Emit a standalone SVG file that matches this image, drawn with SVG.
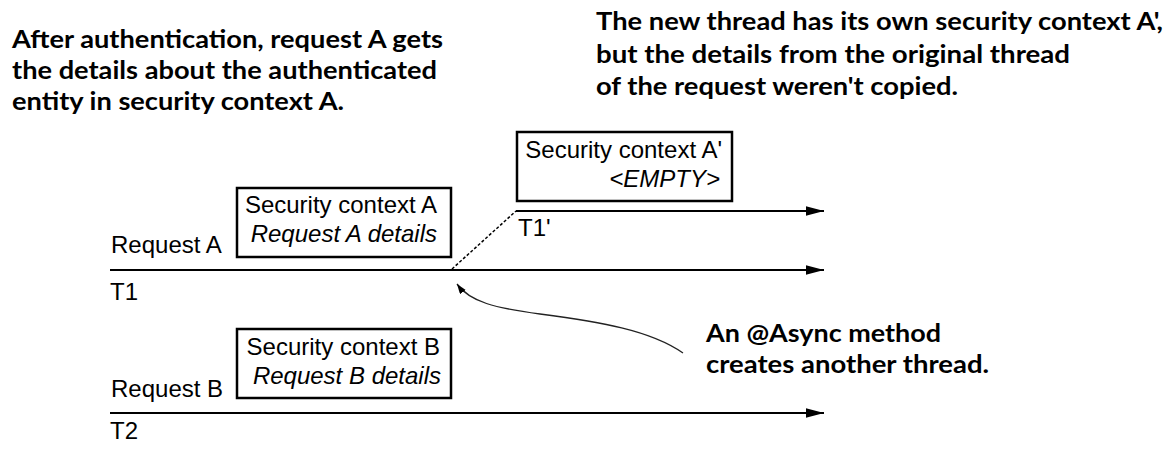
<svg xmlns="http://www.w3.org/2000/svg" width="1169" height="454" viewBox="0 0 1169 454">
<style>
.title{font-family:Lato,"Liberation Sans",sans-serif;font-weight:bold;font-size:25.5px;fill:#000}
.lbl{font-family:"Liberation Sans",Arial,sans-serif;font-size:24px;fill:#000}
.it{font-style:italic}
.box{fill:#fff;stroke:#000;stroke-width:2.5}
.thread{stroke:#000;stroke-width:2.2;fill:none}
</style>
<defs>
<marker id="ah" markerUnits="userSpaceOnUse" markerWidth="18" markerHeight="10" refX="18" refY="4.75" orient="auto">
<path d="M0,0 L18,4.75 L0,9.5 z" fill="#000"/>
</marker>
<marker id="ah2" markerUnits="userSpaceOnUse" markerWidth="11" markerHeight="8" refX="10" refY="3.5" orient="auto">
<path d="M0,0 L10,3.5 L0,7 z" fill="#000"/>
</marker>
</defs>
<g id="title-left">
<text class="title" x="12" y="48" textLength="431" lengthAdjust="spacingAndGlyphs">After authentication, request A gets</text>
<text class="title" x="12" y="79" textLength="425" lengthAdjust="spacingAndGlyphs">the details about the authenticated</text>
<text class="title" x="12" y="110" textLength="332" lengthAdjust="spacingAndGlyphs">entity in security context A.</text>
</g>
<g id="title-right">
<text class="title" x="596" y="30" textLength="567" lengthAdjust="spacingAndGlyphs">The new thread has its own security context A',</text>
<text class="title" x="596" y="63" textLength="474" lengthAdjust="spacingAndGlyphs">but the details from the original thread</text>
<text class="title" x="596" y="95" textLength="362" lengthAdjust="spacingAndGlyphs">of the request weren't copied.</text>
</g>
<g id="connectors">
<line class="thread" x1="110" y1="270" x2="824" y2="270" marker-end="url(#ah)"/>
<line class="thread" x1="516" y1="211" x2="824" y2="211" marker-end="url(#ah)"/>
<line class="thread" x1="110" y1="413" x2="824" y2="413" marker-end="url(#ah)"/>
<line x1="452" y1="269" x2="516" y2="211" stroke="#000" stroke-width="1.5" stroke-dasharray="3,2"/>
<path d="M683,353 C650,330 600,322 540,314 C495,308 470,302 457,284" fill="none" stroke="#222" stroke-width="1.3" marker-end="url(#ah2)"/>
</g>
<g id="thread-T1">
<text class="lbl" x="111" y="253">Request A</text>
<text class="lbl" x="110" y="300">T1</text>
</g>
<g id="thread-T1prime">
<text class="lbl" x="518" y="236">T1'</text>
</g>
<g id="thread-T2">
<text class="lbl" x="111" y="397">Request B</text>
<text class="lbl" x="110" y="439">T2</text>
</g>
<g id="ctx-A">
<rect class="box" x="237" y="188" width="214" height="69"/>
<text class="lbl" x="437" y="213" text-anchor="end">Security context A</text>
<text class="lbl it" x="437" y="242" text-anchor="end">Request A details</text>
</g>
<g id="ctx-Aprime">
<rect class="box" x="517" y="132" width="215" height="69"/>
<text class="lbl" x="722" y="158" text-anchor="end">Security context A'</text>
<text class="lbl it" x="720" y="187" text-anchor="end">&lt;EMPTY&gt;</text>
</g>
<g id="ctx-B">
<rect class="box" x="237" y="329" width="214" height="69"/>
<text class="lbl" x="440" y="355" text-anchor="end">Security context B</text>
<text class="lbl it" x="441" y="384" text-anchor="end">Request B details</text>
</g>
<g id="note-async">
<text class="title" x="706" y="342" textLength="235" lengthAdjust="spacingAndGlyphs">An @Async method</text>
<text class="title" x="706" y="373" textLength="283" lengthAdjust="spacingAndGlyphs">creates another thread.</text>
</g>
</svg>
